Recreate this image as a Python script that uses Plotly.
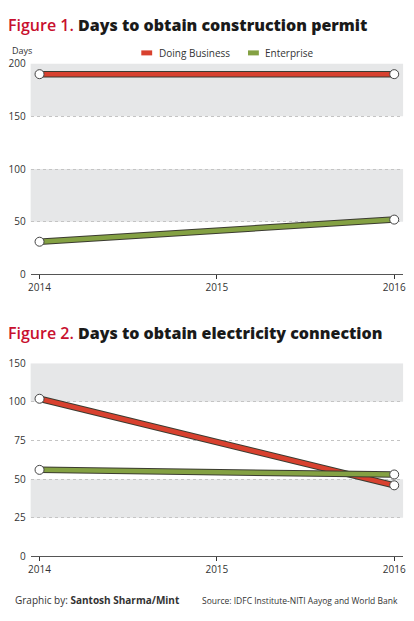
import plotly.graph_objects as go

# data
years = [2014, 2016]
permit_doing_business = [190, 190]
permit_enterprise = [31, 52]
power_doing_business = [102, 46]
power_enterprise = [56, 53]

permit_ticks = [0, 50, 100, 150, 200]
# the original graphic labels its top gridline "150" although it sits at 125
power_ticks = [0, 25, 50, 75, 100, 125]
power_ticktext = ["0", "25", "50", "75", "100", "150"]

RED = "#d8412f"
GREEN = "#84a143"
EDGE = "#3b3b30"
BAND = "#e6e7e8"
FONT = "Open Sans"

H = 621
W = 414

def py(p):
    # pixel row -> paper y
    return 1 - p / H

def px(p):
    return p / W

fig = go.Figure()

def add_series(xa, ya, y, color):
    fig.add_trace(go.Scatter(x=years, y=y, xaxis=xa, yaxis=ya, mode="lines",
                             line=dict(color=EDGE, width=6.5), hoverinfo="skip"))
    fig.add_trace(go.Scatter(x=years, y=y, xaxis=xa, yaxis=ya, mode="lines",
                             line=dict(color=color, width=4.5)))
    fig.add_trace(go.Scatter(x=years, y=y, xaxis=xa, yaxis=ya, mode="markers",
                             marker=dict(size=9, color="white",
                                         line=dict(color="#444", width=1)),
                             hoverinfo="skip"))

add_series("x", "y", permit_doing_business, RED)
add_series("x", "y", permit_enterprise, GREEN)
add_series("x2", "y2", power_doing_business, RED)
add_series("x2", "y2", power_enterprise, GREEN)

# grey bands
shapes = []
for y0, y1 in [(150, 200), (50, 100)]:
    shapes.append(dict(type="rect", xref="x domain", yref="y", x0=0, x1=1,
                       y0=y0, y1=y1, fillcolor=BAND, line_width=0, layer="below"))
for y0, y1 in [(100, 125), (25, 50)]:
    shapes.append(dict(type="rect", xref="x2 domain", yref="y2", x0=0, x1=1,
                       y0=y0, y1=y1, fillcolor=BAND, line_width=0, layer="below"))

# legend keys drawn by hand (short rounded bars in the original)
for x0, color in [(141, RED), (249, GREEN)]:
    shapes.append(dict(type="line", xref="paper", yref="paper",
                       x0=px(x0), x1=px(x0 + 11), y0=py(46), y1=py(46),
                       line=dict(color=color, width=5)))

xdom = [px(29), px(406)]
xrange = [2014 - 9 / 179.5, 2016 + 9 / 179.5]
xcommon = dict(domain=xdom, range=xrange, tickvals=[2014, 2015, 2016],
               showgrid=False, zeroline=False, showline=True, linecolor="#555",
               linewidth=1, ticks="outside", ticklen=4, tickcolor="#333",
               tickfont=dict(size=10, color="#333", family=FONT), fixedrange=True)
ycommon = dict(showgrid=True, gridcolor="#c4c4c4", griddash="dot", gridwidth=1,
               zeroline=False, showline=False, ticks="", ticklabelstandoff=4,
               tickfont=dict(size=10, color="#333", family=FONT), fixedrange=True)

fig.update_layout(
    width=W, height=H,
    margin=dict(l=0, r=0, t=0, b=0),
    paper_bgcolor="white", plot_bgcolor="white",
    xaxis=dict(xcommon, anchor="y"),
    yaxis=dict(ycommon, anchor="x", domain=[py(273), py(57)], range=[0, 200],
               tickvals=permit_ticks),
    xaxis2=dict(xcommon, anchor="y2"),
    yaxis2=dict(ycommon, anchor="x2", domain=[py(562), py(364)], range=[0, 125],
                tickvals=power_ticks, ticktext=power_ticktext),
    shapes=shapes,
    showlegend=False,
)

title_fmt = ("<span style='color:#c8102e;font-weight:600'>{}</span> "
             "<span style='font-weight:800'>{}</span>")
annotations = [
    dict(text=title_fmt.format("Figure 1.", "Days to obtain construction permit"),
         x=px(4), y=py(17), xanchor="left", yanchor="middle",
         font=dict(size=16, color="#1a1a1a", family=FONT)),
    dict(text="Days", x=px(20), y=py(44), xanchor="center", yanchor="middle",
         font=dict(size=9, color="#333", family=FONT)),
    dict(text="Doing Business", x=px(157), y=py(46), xanchor="left", yanchor="middle",
         font=dict(size=10, color="#333", family=FONT)),
    dict(text="Enterprise", x=px(264), y=py(46), xanchor="left", yanchor="middle",
         font=dict(size=10, color="#333", family=FONT)),
    dict(text=title_fmt.format("Figure 2.", "Days to obtain electricity connection"),
         x=px(4), y=py(333), xanchor="left", yanchor="middle",
         font=dict(size=16, color="#1a1a1a", family=FONT)),
    dict(text="Graphic by: <b>Santosh Sharma/Mint</b>", x=px(11), y=py(607),
         xanchor="left", yanchor="middle",
         font=dict(size=10, color="#333", family=FONT)),
    dict(text="Source: IDFC Institute-NITI Aayog and World Bank", x=px(403), y=py(607),
         xanchor="right", yanchor="middle",
         font=dict(size=8.5, color="#333", family=FONT)),
]
for a in annotations:
    a.update(xref="paper", yref="paper", showarrow=False)
fig.update_layout(annotations=annotations)

fig.write_html("out.html", config={"displayModeBar": False},
               post_script="document.body.style.margin='0';document.body.style.overflow='hidden';")
